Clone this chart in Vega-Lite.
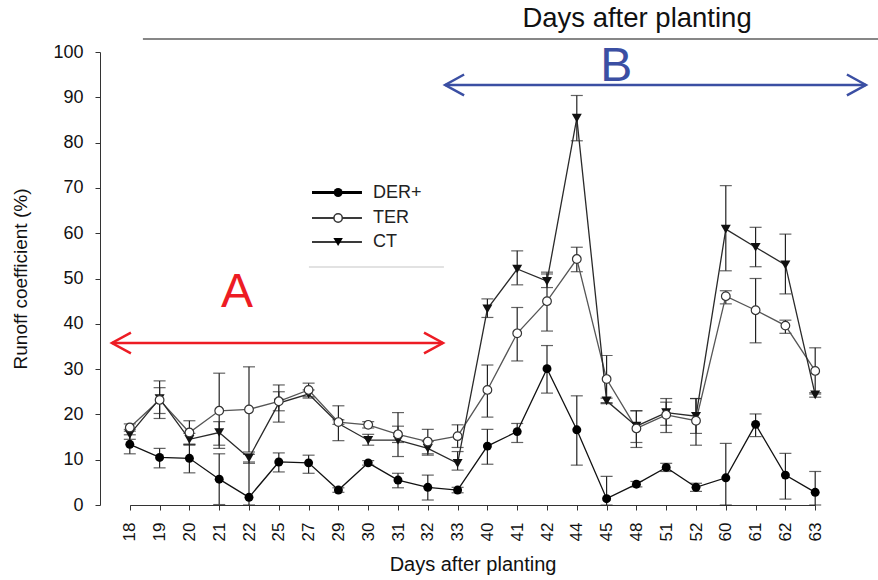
{
  "$schema": "https://vega.github.io/schema/vega-lite/v6.json",
  "width": 737,
  "height": 453,
  "autosize": "none",
  "padding": {"left": 100, "top": 52, "right": 41, "bottom": 75},
  "background": "white",
  "config": {"view": {"stroke": null}, "font": "Liberation Sans"},
  "datasets": {
    "main": [
      {"day": 18, "series": "DER+", "value": 13.4, "lo": 11.3, "hi": 15.5},
      {"day": 19, "series": "DER+", "value": 10.5, "lo": 8.2, "hi": 12.5},
      {"day": 20, "series": "DER+", "value": 10.3, "lo": 7.1, "hi": 13.4},
      {"day": 21, "series": "DER+", "value": 5.7, "lo": 0.1, "hi": 11.3},
      {"day": 22, "series": "DER+", "value": 1.7, "lo": 0, "hi": 9.5},
      {"day": 25, "series": "DER+", "value": 9.5, "lo": 7.3, "hi": 11.5},
      {"day": 27, "series": "DER+", "value": 9.3, "lo": 7.0, "hi": 11.0},
      {"day": 29, "series": "DER+", "value": 3.3, "lo": 2.8, "hi": 3.8},
      {"day": 30, "series": "DER+", "value": 9.3, "lo": 8.8, "hi": 9.8},
      {"day": 31, "series": "DER+", "value": 5.5, "lo": 3.8, "hi": 7.0},
      {"day": 32, "series": "DER+", "value": 3.9, "lo": 1.1, "hi": 6.6},
      {"day": 33, "series": "DER+", "value": 3.3, "lo": 2.7, "hi": 3.9},
      {"day": 40, "series": "DER+", "value": 13.0, "lo": 9.0, "hi": 16.7},
      {"day": 41, "series": "DER+", "value": 16.2, "lo": 13.8, "hi": 18.0},
      {"day": 42, "series": "DER+", "value": 30.1, "lo": 24.7, "hi": 35.2},
      {"day": 44, "series": "DER+", "value": 16.6, "lo": 8.8, "hi": 24.1},
      {"day": 45, "series": "DER+", "value": 1.4, "lo": 0, "hi": 6.3},
      {"day": 48, "series": "DER+", "value": 4.6, "lo": 4.0, "hi": 5.2},
      {"day": 51, "series": "DER+", "value": 8.3, "lo": 7.4, "hi": 9.2},
      {"day": 52, "series": "DER+", "value": 3.9, "lo": 3.0, "hi": 4.8},
      {"day": 60, "series": "DER+", "value": 6.0, "lo": 0, "hi": 13.6},
      {"day": 61, "series": "DER+", "value": 17.8, "lo": 15.1, "hi": 20.1},
      {"day": 62, "series": "DER+", "value": 6.6, "lo": 1.3, "hi": 11.4},
      {"day": 63, "series": "DER+", "value": 2.8, "lo": 0, "hi": 7.4},
      {"day": 18, "series": "TER", "value": 17.1, "lo": 16.3, "hi": 17.9},
      {"day": 19, "series": "TER", "value": 23.2, "lo": 20.2, "hi": 25.9},
      {"day": 20, "series": "TER", "value": 16.0, "lo": 13.4, "hi": 18.6},
      {"day": 21, "series": "TER", "value": 20.8, "lo": 12.5, "hi": 29.1},
      {"day": 22, "series": "TER", "value": 21.1, "lo": 11.7, "hi": 30.5},
      {"day": 25, "series": "TER", "value": 22.9, "lo": 20.8, "hi": 25.0},
      {"day": 27, "series": "TER", "value": 25.4, "lo": 23.9, "hi": 26.9},
      {"day": 29, "series": "TER", "value": 18.3, "lo": 17.8, "hi": 18.8},
      {"day": 30, "series": "TER", "value": 17.7, "lo": 17.0, "hi": 18.4},
      {"day": 31, "series": "TER", "value": 15.6, "lo": 13.8, "hi": 17.4},
      {"day": 32, "series": "TER", "value": 14.0, "lo": 11.3, "hi": 16.7},
      {"day": 33, "series": "TER", "value": 15.2, "lo": 12.7, "hi": 17.7},
      {"day": 40, "series": "TER", "value": 25.4, "lo": 19.4, "hi": 30.9},
      {"day": 41, "series": "TER", "value": 37.9, "lo": 31.8, "hi": 43.6},
      {"day": 42, "series": "TER", "value": 45.0, "lo": 38.4, "hi": 51.4},
      {"day": 44, "series": "TER", "value": 54.3, "lo": 51.5, "hi": 56.9},
      {"day": 45, "series": "TER", "value": 27.8, "lo": 22.6, "hi": 33.0},
      {"day": 48, "series": "TER", "value": 16.9, "lo": 12.7, "hi": 20.8},
      {"day": 51, "series": "TER", "value": 19.9, "lo": 16.0, "hi": 22.7},
      {"day": 52, "series": "TER", "value": 18.6, "lo": 13.2, "hi": 23.5},
      {"day": 60, "series": "TER", "value": 46.1, "lo": 44.4, "hi": 47.3},
      {"day": 61, "series": "TER", "value": 43.0, "lo": 35.8, "hi": 50.0},
      {"day": 62, "series": "TER", "value": 39.6, "lo": 37.9, "hi": 40.8},
      {"day": 63, "series": "TER", "value": 29.6, "lo": 24.5, "hi": 34.7},
      {"day": 18, "series": "CT", "value": 15.6, "lo": 14.5, "hi": 16.7},
      {"day": 19, "series": "CT", "value": 23.5, "lo": 19.1, "hi": 27.4},
      {"day": 20, "series": "CT", "value": 14.5, "lo": 13.2, "hi": 15.8},
      {"day": 21, "series": "CT", "value": 16.0, "lo": 13.2, "hi": 18.4},
      {"day": 22, "series": "CT", "value": 10.4, "lo": 9.2, "hi": 11.2},
      {"day": 25, "series": "CT", "value": 22.5, "lo": 18.3, "hi": 26.5},
      {"day": 27, "series": "CT", "value": 24.5, "lo": 23.6, "hi": 25.4},
      {"day": 29, "series": "CT", "value": 18.0, "lo": 14.2, "hi": 21.9},
      {"day": 30, "series": "CT", "value": 14.3, "lo": 13.2, "hi": 15.6},
      {"day": 31, "series": "CT", "value": 14.3, "lo": 10.7, "hi": 20.4},
      {"day": 32, "series": "CT", "value": 12.5, "lo": 11.0, "hi": 14.0},
      {"day": 33, "series": "CT", "value": 9.2, "lo": 7.7, "hi": 11.8},
      {"day": 40, "series": "CT", "value": 43.3, "lo": 41.4, "hi": 45.5},
      {"day": 41, "series": "CT", "value": 52.1, "lo": 48.6, "hi": 56.1},
      {"day": 42, "series": "CT", "value": 49.4, "lo": 48.0, "hi": 51.0},
      {"day": 44, "series": "CT", "value": 85.4, "lo": 80.4, "hi": 90.4},
      {"day": 45, "series": "CT", "value": 23.0, "lo": 22.4, "hi": 23.6},
      {"day": 48, "series": "CT", "value": 17.4, "lo": 13.8, "hi": 20.8},
      {"day": 51, "series": "CT", "value": 20.4, "lo": 17.6, "hi": 23.5},
      {"day": 52, "series": "CT", "value": 19.6, "lo": 15.8, "hi": 23.5},
      {"day": 60, "series": "CT", "value": 60.9, "lo": 51.7, "hi": 70.5},
      {"day": 61, "series": "CT", "value": 56.9, "lo": 52.6, "hi": 61.3},
      {"day": 62, "series": "CT", "value": 53.0, "lo": 46.6, "hi": 59.8},
      {"day": 63, "series": "CT", "value": 24.3, "lo": 23.8, "hi": 24.8}
    ],
    "spans": [
      {"id": "A", "x": -0.6, "x2": 10.51, "y": 35.76},
      {"id": "B", "x": 10.58, "x2": 24.7, "y": 92.72}
    ],
    "heads": [
      {"id": "A", "side": "left", "x": -0.6, "y": 35.76},
      {"id": "A", "side": "right", "x": 10.51, "y": 35.76},
      {"id": "B", "side": "left", "x": 10.58, "y": 92.72},
      {"id": "B", "side": "right", "x": 24.7, "y": 92.72}
    ],
    "letters": [
      {"id": "A", "x": 3.6, "y": 43.7},
      {"id": "B", "x": 16.32, "y": 93.6}
    ],
    "header": [
      {"label": "Days after planting", "x": 17.02, "y": 105.5, "x1": 0.44, "x2": 25.11, "yline": 102.87}
    ],
    "legend": [
      {"series": "DER+", "x1": 6.114, "x2": 7.79, "xm": 6.99, "xt": 8.16, "y": 68.98},
      {"series": "TER", "x1": 6.114, "x2": 7.79, "xm": 6.99, "xt": 8.16, "y": 63.36},
      {"series": "CT", "x1": 6.114, "x2": 7.79, "xm": 6.99, "xt": 8.16, "y": 58.06}
    ],
    "legendrule": [
      {"x1": 6.01, "x2": 10.54, "y": 52.54}
    ]
  },
  "layer": [
    {
      "data": {"name": "main"},
      "encoding": {
        "x": {
          "field": "day",
          "type": "ordinal",
          "sort": "ascending",
          "scale": {"type": "point", "padding": 0, "range": [29.8, 715.2]},
          "axis": {
            "title": "Days after planting",
            "titleFontSize": 20,
            "titleFontWeight": "normal",
            "titleColor": "#111",
            "titlePadding": 14,
            "labelAngle": -90,
            "labelFontSize": 17,
            "labelColor": "#111",
            "labelPadding": 12,
            "tickSize": 5,
            "tickColor": "#333",
            "domainColor": "#333",
            "grid": false
          }
        },
        "y": {
          "type": "quantitative",
          "scale": {"domain": [0, 100], "nice": false, "zero": true},
          "axis": {
            "title": "Runoff coefficient (%)",
            "titleFontSize": 19,
            "titleFontWeight": "normal",
            "titleColor": "#111",
            "titlePadding": 22,
            "values": [0, 10, 20, 30, 40, 50, 60, 70, 80, 90, 100],
            "labelFontSize": 18,
            "labelColor": "#111",
            "labelPadding": 12,
            "tickSize": 5,
            "tickColor": "#333",
            "domainColor": "#333",
            "grid": false
          }
        }
      },
      "layer": [
        {
          "mark": {"type": "rule", "color": "#222", "strokeWidth": 1.2},
          "encoding": {"y": {"field": "lo", "type": "quantitative"}, "y2": {"field": "hi"}}
        },
        {
          "mark": {"type": "tick", "orient": "horizontal", "color": "#222", "size": 12, "thickness": 1.2},
          "encoding": {"y": {"field": "lo", "type": "quantitative"}}
        },
        {
          "mark": {"type": "tick", "orient": "horizontal", "color": "#222", "size": 12, "thickness": 1.2},
          "encoding": {"y": {"field": "hi", "type": "quantitative"}}
        },
        {
          "mark": {"type": "line", "strokeWidth": 1.3},
          "encoding": {
            "y": {"field": "value", "type": "quantitative"},
            "color": {"field": "series", "type": "nominal", "scale": {"domain": ["DER+", "TER", "CT"], "range": ["#111111", "#555555", "#2a2a2a"]}, "legend": null}
          }
        },
        {
          "transform": [{"filter": "datum.series === 'CT'"}],
          "mark": {"type": "point", "shape": "triangle-down", "filled": true, "color": "#111", "size": 100, "opacity": 1},
          "encoding": {"y": {"field": "value", "type": "quantitative"}}
        },
        {
          "transform": [{"filter": "datum.series === 'TER'"}],
          "mark": {"type": "point", "shape": "circle", "filled": true, "fill": "white", "stroke": "#333", "strokeWidth": 1.2, "size": 75, "opacity": 1},
          "encoding": {"y": {"field": "value", "type": "quantitative"}}
        },
        {
          "transform": [{"filter": "datum.series === 'DER+'"}],
          "mark": {"type": "point", "shape": "circle", "filled": true, "color": "#000", "size": 80, "opacity": 1},
          "encoding": {"y": {"field": "value", "type": "quantitative"}}
        }
      ]
    },
    {
      "encoding": {
        "y": {"field": "y", "type": "quantitative", "scale": {"domain": [0, 100], "nice": false}, "axis": null}
      },
      "layer": [
        {
          "data": {"name": "spans"},
          "mark": {"type": "rule", "strokeWidth": 2.5},
          "encoding": {
            "x": {"field": "x", "type": "quantitative", "scale": {"domain": [-1, 23.73], "nice": false, "zero": false}, "axis": null},
            "x2": {"field": "x2"},
            "color": {"field": "id", "type": "nominal", "scale": {"domain": ["A", "B"], "range": ["#ed1c24", "#3b4fa3"]}, "legend": null}
          }
        },
        {
          "data": {"name": "heads"},
          "transform": [{"filter": "datum.side === 'left'"}],
          "mark": {"type": "point", "shape": "M1,-0.55L0,0L1,0.55", "filled": false, "strokeWidth": 2.5, "size": 1444, "opacity": 1, "strokeJoin": "miter"},
          "encoding": {
            "x": {"field": "x", "type": "quantitative", "scale": {"domain": [-1, 23.73], "nice": false, "zero": false}, "axis": null},
            "stroke": {"field": "id", "type": "nominal", "scale": {"domain": ["A", "B"], "range": ["#ed1c24", "#3b4fa3"]}, "legend": null}
          }
        },
        {
          "data": {"name": "heads"},
          "transform": [{"filter": "datum.side === 'right'"}],
          "mark": {"type": "point", "shape": "M-1,-0.55L0,0L-1,0.55", "filled": false, "strokeWidth": 2.5, "size": 1444, "opacity": 1, "strokeJoin": "miter"},
          "encoding": {
            "x": {"field": "x", "type": "quantitative", "scale": {"domain": [-1, 23.73], "nice": false, "zero": false}, "axis": null},
            "stroke": {"field": "id", "type": "nominal", "scale": {"domain": ["A", "B"], "range": ["#ed1c24", "#3b4fa3"]}, "legend": null}
          }
        },
        {
          "data": {"name": "letters"},
          "mark": {"type": "text", "fontSize": 48, "align": "center", "baseline": "alphabetic"},
          "encoding": {
            "x": {"field": "x", "type": "quantitative", "scale": {"domain": [-1, 23.73], "nice": false, "zero": false}, "axis": null},
            "text": {"field": "id"},
            "color": {"field": "id", "type": "nominal", "scale": {"domain": ["A", "B"], "range": ["#ed1c24", "#3b4fa3"]}, "legend": null}
          }
        },
        {
          "data": {"name": "header"},
          "mark": {"type": "text", "fontSize": 27.5, "align": "center", "baseline": "alphabetic", "color": "#111"},
          "encoding": {
            "x": {"field": "x", "type": "quantitative", "scale": {"domain": [-1, 23.73], "nice": false, "zero": false}, "axis": null},
            "text": {"field": "label"}
          }
        },
        {
          "data": {"name": "header"},
          "mark": {"type": "rule", "color": "#111", "strokeWidth": 1.2},
          "encoding": {
            "x": {"field": "x1", "type": "quantitative", "scale": {"domain": [-1, 23.73], "nice": false, "zero": false}, "axis": null},
            "x2": {"field": "x2"},
            "y": {"field": "yline", "type": "quantitative", "scale": {"domain": [0, 100], "nice": false}, "axis": null}
          }
        },
        {
          "data": {"name": "legendrule"},
          "mark": {"type": "rule", "color": "#d8d8d8", "strokeWidth": 1.5},
          "encoding": {
            "x": {"field": "x1", "type": "quantitative", "scale": {"domain": [-1, 23.73], "nice": false, "zero": false}, "axis": null},
            "x2": {"field": "x2"}
          }
        },
        {
          "data": {"name": "legend"},
          "transform": [{"filter": "datum.series === 'DER+'"}],
          "mark": {"type": "rule", "color": "#000", "strokeWidth": 3},
          "encoding": {
            "x": {"field": "x1", "type": "quantitative", "scale": {"domain": [-1, 23.73], "nice": false, "zero": false}, "axis": null},
            "x2": {"field": "x2"}
          }
        },
        {
          "data": {"name": "legend"},
          "transform": [{"filter": "datum.series !== 'DER+'"}],
          "mark": {"type": "rule", "color": "#3a3a3a", "strokeWidth": 2},
          "encoding": {
            "x": {"field": "x1", "type": "quantitative", "scale": {"domain": [-1, 23.73], "nice": false, "zero": false}, "axis": null},
            "x2": {"field": "x2"}
          }
        },
        {
          "data": {"name": "legend"},
          "transform": [{"filter": "datum.series === 'DER+'"}],
          "mark": {"type": "point", "shape": "circle", "filled": true, "color": "#000", "size": 80, "opacity": 1},
          "encoding": {
            "x": {"field": "xm", "type": "quantitative", "scale": {"domain": [-1, 23.73], "nice": false, "zero": false}, "axis": null}
          }
        },
        {
          "data": {"name": "legend"},
          "transform": [{"filter": "datum.series === 'TER'"}],
          "mark": {"type": "point", "shape": "circle", "filled": true, "fill": "white", "stroke": "#333", "strokeWidth": 1.5, "size": 70, "opacity": 1},
          "encoding": {
            "x": {"field": "xm", "type": "quantitative", "scale": {"domain": [-1, 23.73], "nice": false, "zero": false}, "axis": null}
          }
        },
        {
          "data": {"name": "legend"},
          "transform": [{"filter": "datum.series === 'CT'"}],
          "mark": {"type": "point", "shape": "triangle-down", "filled": true, "color": "#000", "size": 90, "opacity": 1},
          "encoding": {
            "x": {"field": "xm", "type": "quantitative", "scale": {"domain": [-1, 23.73], "nice": false, "zero": false}, "axis": null}
          }
        },
        {
          "data": {"name": "legend"},
          "mark": {"type": "text", "fontSize": 18, "align": "left", "baseline": "middle", "color": "#222"},
          "encoding": {
            "x": {"field": "xt", "type": "quantitative", "scale": {"domain": [-1, 23.73], "nice": false, "zero": false}, "axis": null},
            "text": {"field": "series"}
          }
        }
      ]
    }
  ],
  "resolve": {"scale": {"x": "independent", "y": "independent", "color": "independent", "stroke": "independent"}}
}
